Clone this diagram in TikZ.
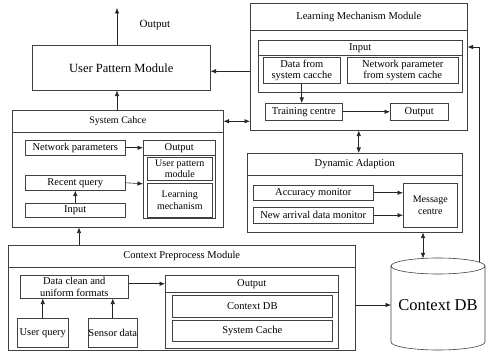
\documentclass[tikz,border=0pt]{standalone}
\usepackage{fontspec}
\setmainfont{Liberation Serif}
\usetikzlibrary{arrows.meta}
\newcommand{\fsz}[2]{\fontsize{#1}{#2}\selectfont}
\tikzset{
  box/.style={draw=black!75, line width=0.55pt, inner sep=0pt, anchor=north west,
              align=center, font=\fsz{10.5}{11.5}},
  arr/.style={-{Latex[length=5.5pt,width=4.5pt]}, line width=0.6pt, draw=black!85},
  darr/.style={{Latex[length=5.5pt,width=4.5pt]}-{Latex[length=5.5pt,width=4.5pt]},
               line width=0.6pt, draw=black!85},
  cyl/.style={draw=black!75, line width=0.6pt},
}
\begin{document}
\begin{tikzpicture}[x=1pt,y=-1pt]
\useasboundingbox (0,0) rectangle (487,352);

% ---------- User Pattern Module ----------
\node[box, minimum width=178pt, minimum height=45pt, font=\fsz{12.5}{14}] (upm) at (32,45) {User Pattern Module};
\node[font=\fsz{11}{12}] (outlbl) at (155,25) {Output};
\coordinate (outtip) at (117,8);

% ---------- System Cahce ----------
\node[box, minimum width=211pt, minimum height=117pt] (sc) at (12,110) {};
\node[box, minimum width=211pt, minimum height=22pt, font=\fsz{10}{11}] (schead) at (12,110) {System Cahce};
\node[box, minimum width=100pt, minimum height=15pt] (scnet) at (25,140) {Network parameters};
\node[box, minimum width=100pt, minimum height=15pt] (scrq) at (25,175) {Recent query};
\node[box, minimum width=100pt, minimum height=14pt] (scin) at (25,203) {Input};
\node[box, minimum width=72pt, minimum height=78pt] (scout) at (143,140) {};
\node[box, minimum width=72pt, minimum height=15pt] (scouthead) at (143,140) {Output};
\node[box, minimum width=65pt, minimum height=23pt, font=\fsz{10}{11}] (scupm) at (147,157) {User pattern\\module};
\node[box, minimum width=65pt, minimum height=34pt, font=\fsz{10}{11.5}] (sclm) at (147,183) {Learning\\mechanism};

% ---------- Learning Mechanism Module ----------
\node[box, minimum width=217pt, minimum height=127pt] (lmm) at (250,3) {};
\node[box, minimum width=217pt, minimum height=27pt] (lmmhead) at (250,3) {Learning Mechanism Module};
\node[box, minimum width=204pt, minimum height=52pt] (lin) at (258,40) {};
\node[box, minimum width=204pt, minimum height=15pt] (linhead) at (258,40) {Input};
\node[box, minimum width=77pt, minimum height=26pt] (ldata) at (263,57) {Data from\\system cacche};
\node[box, minimum width=111pt, minimum height=26pt] (lnetp) at (347,57) {Network parameter\\from system cache};
\node[box, minimum width=77pt, minimum height=17pt] (ltrain) at (265,103) {Training centre};
\node[box, minimum width=58pt, minimum height=17pt] (lout) at (390,103) {Output};

% ---------- Dynamic Adaption ----------
\node[box, minimum width=215pt, minimum height=79pt] (da) at (247,153) {};
\node[box, minimum width=215pt, minimum height=22pt] (dahead) at (247,153) {Dynamic Adaption};
\node[box, minimum width=120pt, minimum height=15pt] (dacc) at (253,185) {Accuracy monitor};
\node[box, minimum width=120pt, minimum height=16pt] (dnew) at (253,207) {New arrival data monitor};
\node[box, minimum width=54pt, minimum height=44pt, font=\fsz{10}{12}] (dmsg) at (403,183) {Message\\centre};

% ---------- Context Preprocess Module ----------
\node[box, minimum width=347pt, minimum height=105pt] (cpm) at (8,245) {};
\node[box, minimum width=347pt, minimum height=22pt] (cpmhead) at (8,245) {Context Preprocess Module};
\node[box, minimum width=108pt, minimum height=23pt] (cdc) at (20,275) {Data clean and\\uniform formats};
\node[box, minimum width=51pt, minimum height=29pt] (cuq) at (17,318) {User query};
\node[box, minimum width=49pt, minimum height=29pt] (csd) at (88,318) {Sensor data};
\node[box, minimum width=173pt, minimum height=73pt] (cout) at (165,275) {};
\node[box, minimum width=173pt, minimum height=17pt] (couthead) at (165,275) {Output};
\node[box, minimum width=160pt, minimum height=22pt] (cctx) at (172,295) {Context DB};
\node[box, minimum width=160pt, minimum height=21pt] (ccache) at (172,320) {System Cache};

% ---------- Context DB cylinder ----------
\draw[cyl] (391,266) -- (391,342) arc[start angle=180, end angle=0, x radius=47, y radius=8] -- (485,266);
\draw[cyl] (438,266) ellipse[x radius=47, y radius=8];
\node[font=\fsz{16.5}{18}] (cdb) at (438,305) {Context DB};
\coordinate (cyltop) at (423,258.4);
\coordinate (cylleft) at (391,305);
\coordinate (cylright) at (479,262);
\coordinate (rturn) at (479,47);
\coordinate (upx) at (79,0);

% ---------- connectors ----------
\draw[arr] (outtip |- upm.north) -- (outtip);
\draw[arr] (outtip |- sc.north) -- (outtip |- upm.south);
\draw[arr] ([yshift=-3.5pt]upm.east -| lmm.west) -- ([yshift=-3.5pt]upm.east);
\draw[darr] (schead.east) -- (schead.east -| lmm.west);
\draw[arr] (scnet.east) -- (scnet.east -| scout.west);
\draw[arr] (scrq.east) -- ([yshift=-1pt]scrq.east -| scout.west);
\draw[arr] (scin.north) -- (scrq.south);
\draw[arr] (upx |- cpm.north) -- (upx |- sc.south);

\draw[arr] (ldata.south) -- (ldata.south |- ltrain.north);
\draw[arr] (ltrain.east) -- (lout.west);
\draw[darr] (lmm.south) -- (lmm.south |- da.north);

\draw[arr] (dacc.east) -- (dacc.east -| dmsg.west);
\draw[arr] (dnew.east) -- (dnew.east -| dmsg.west);
\draw[darr] (cyltop |- da.south) -- (cyltop);
\draw[arr] (cylright) -- (rturn) -- (rturn -| lmm.east);

\draw[arr] ([yshift=3pt]cdc.east) -- ([yshift=3pt]cdc.east -| cout.west);
\draw[arr] (cuq.north) -- (cuq.north |- cdc.south);
\draw[arr] (csd.north) -- (csd.north |- cdc.south);
\draw[arr] (cylleft -| cpm.east) -- (cylleft);
\end{tikzpicture}
\end{document}
